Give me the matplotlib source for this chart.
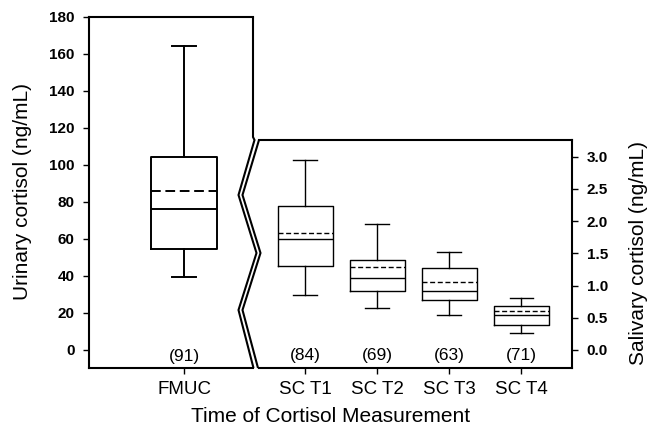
import matplotlib
matplotlib.use('Agg')
import matplotlib.pyplot as plt
from matplotlib.lines import Line2D

plt.rcParams['font.family'] = ['Liberation Sans', 'DejaVu Sans']

# urinary cortisol (left panel, ng/mL)
urine_labels = ['FMUC']
urine_n = [91]
urine_whislo = [39.2]
urine_q1 = [54.5]
urine_med = [76.0]
urine_mean = [85.7]
urine_q3 = [104.0]
urine_whishi = [164.3]

# salivary cortisol (right panel, ng/mL)
saliva_labels = ['SC T1', 'SC T2', 'SC T3', 'SC T4']
saliva_n = [84, 69, 63, 71]
saliva_whislo = [0.86, 0.65, 0.55, 0.27]
saliva_q1 = [1.30, 0.92, 0.77, 0.39]
saliva_med = [1.72, 1.11, 0.92, 0.55]
saliva_mean = [1.81, 1.29, 1.05, 0.61]
saliva_q3 = [2.23, 1.39, 1.27, 0.69]
saliva_whishi = [2.95, 1.96, 1.52, 0.81]


def make_stats(labels, lo, q1, med, mean, q3, hi):
    out = []
    for i in range(len(labels)):
        out.append(dict(label=labels[i], whislo=lo[i], q1=q1[i], med=med[i],
                        mean=mean[i], q3=q3[i], whishi=hi[i], fliers=[]))
    return out


W, H = 660, 433


def px_box(l, t, r, b):
    # pixel rect -> figure fraction
    return [l / W, 1 - b / H, (r - l) / W, (b - t) / H]


def px_line(pts, lw=1.5):
    xs = [p[0] / W for p in pts]
    ys = [1 - p[1] / H for p in pts]
    return Line2D(xs, ys, transform=fig.transFigure, color='black', lw=lw,
                  solid_joinstyle='miter', solid_capstyle='butt')


fig = plt.figure(figsize=(6.6, 4.33), dpi=100)
axL = fig.add_axes(px_box(89, 16.7, 253, 368))
axR = fig.add_axes(px_box(259, 140, 572, 368))

# left panel
lwL = 1.4
stL = make_stats(urine_labels, urine_whislo, urine_q1, urine_med, urine_mean, urine_q3, urine_whishi)
axL.bxp(stL, positions=[0], widths=0.93, capwidths=0.32, showmeans=True, meanline=True,
        showfliers=False,
        boxprops=dict(color='black', lw=lwL),
        whiskerprops=dict(color='black', lw=lwL),
        capprops=dict(color='black', lw=lwL),
        medianprops=dict(color='black', lw=lwL),
        meanprops=dict(color='black', lw=lwL, linestyle=(0, (5, 2.4))))
axL.set_xlim(-1.319, 0.958)
axL.set_ylim(-10, 180)
axL.set_yticks(range(0, 181, 20))
axL.spines['right'].set_visible(False)
for s in ['left', 'top', 'bottom']:
    axL.spines[s].set_linewidth(1.5)
axL.tick_params(axis='y', direction='out', length=4.5, width=1, labelsize=11, pad=6)
axL.tick_params(axis='x', direction='out', length=4.5, width=1, labelsize=13.5, pad=5)
for lab in axL.get_yticklabels():
    lab.set_fontweight('bold')
for i, n in enumerate(urine_n):
    axL.text(i, -3.6, f'({n})', ha='center', va='center', fontsize=12.5)

# right panel
lwR = 1.0
stR = make_stats(saliva_labels, saliva_whislo, saliva_q1, saliva_med, saliva_mean, saliva_q3, saliva_whishi)
axR.bxp(stR, positions=[1, 2, 3, 4], widths=0.764, capwidths=0.32, showmeans=True, meanline=True,
        showfliers=False,
        boxprops=dict(color='black', lw=lwR),
        whiskerprops=dict(color='black', lw=lwR),
        capprops=dict(color='black', lw=lwR),
        medianprops=dict(color='black', lw=lwR),
        meanprops=dict(color='black', lw=lwR, linestyle=(0, (3.6, 1.9))))
axR.set_xlim(0.361, 4.708)
axR.set_ylim(-0.28, 3.26)
axR.yaxis.tick_right()
rticks = [0.0, 0.5, 1.0, 1.5, 2.0, 2.5, 3.0]
axR.set_yticks(rticks)
axR.set_yticklabels([f'{v:.1f}' for v in rticks])
axR.spines['left'].set_visible(False)
for s in ['right', 'top', 'bottom']:
    axR.spines[s].set_linewidth(1.5)
axR.tick_params(axis='y', direction='out', length=4.5, width=1, labelsize=11, pad=6)
axR.tick_params(axis='x', direction='out', length=4.5, width=1, labelsize=13.5, pad=5)
for lab in axR.get_yticklabels():
    lab.set_fontweight('bold')
for i, n in enumerate(saliva_n):
    axR.text(i + 1, -0.093, f'({n})', ha='center', va='center', fontsize=12.5)

# axis break: double zigzag between panels
fig.add_artist(px_line([(253, 16.7), (253, 137), (254.5, 140), (238.5, 195),
                        (256.5, 253), (238.5, 310), (253.5, 368)]))
fig.add_artist(px_line([(259, 140), (242.5, 195), (260.5, 253), (242.5, 310), (258, 368)]))

fig.text(23 / W, 1 - 192 / H, 'Urinary cortisol (ng/mL)', rotation=90,
         ha='center', va='center', fontsize=15)
fig.text(639 / W, 1 - 253 / H, 'Salivary cortisol (ng/mL)', rotation=90,
         ha='center', va='center', fontsize=15)
fig.text(331 / W, 1 - 417 / H, 'Time of Cortisol Measurement',
         ha='center', va='center', fontsize=15)

fig.savefig('out.png', dpi=100)
